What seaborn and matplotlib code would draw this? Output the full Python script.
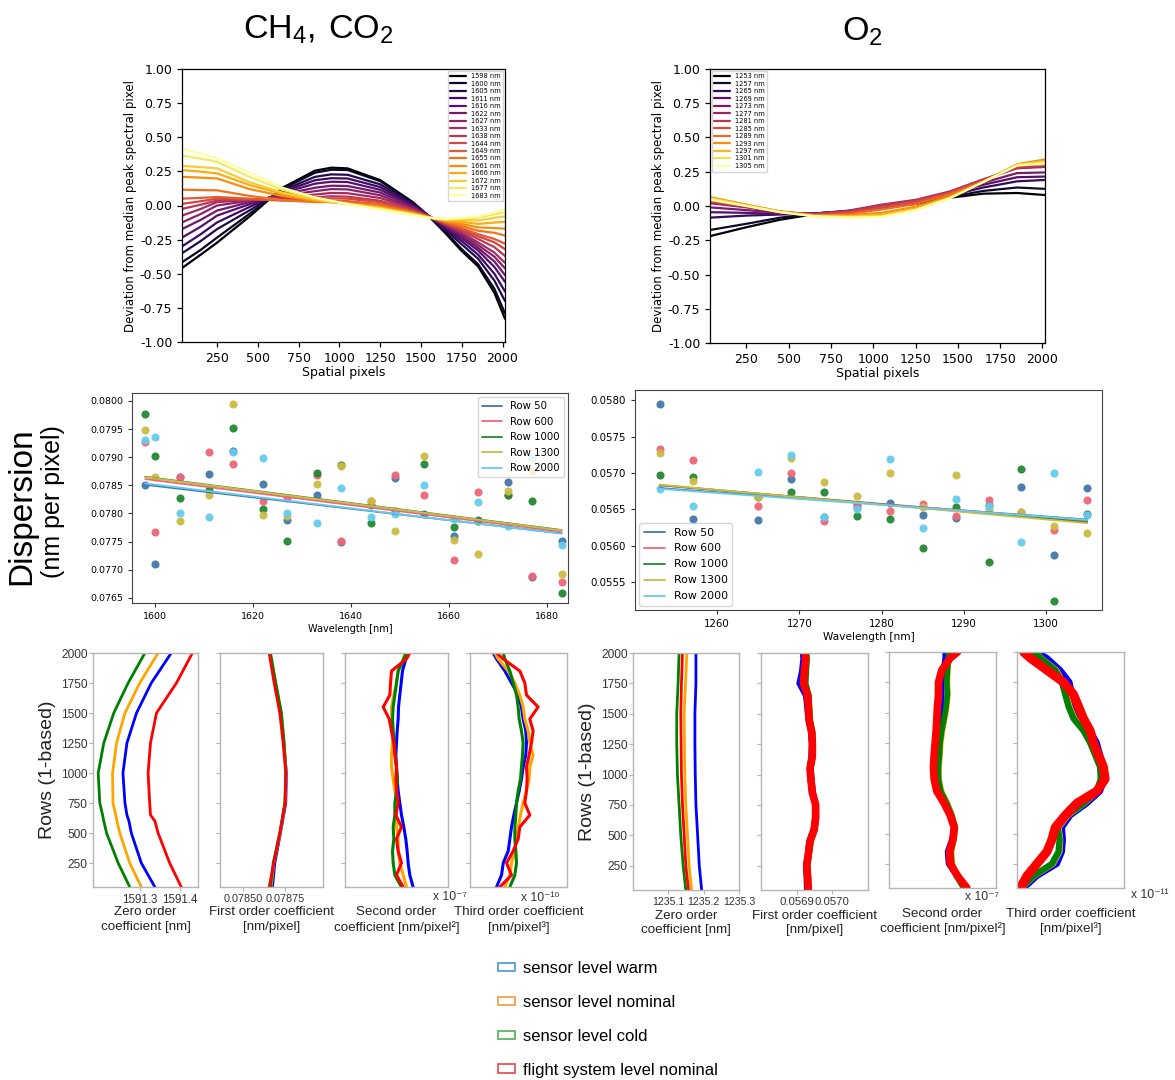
import numpy as np
import pandas as pd
import matplotlib
matplotlib.use("Agg")
import matplotlib.pyplot as plt
from matplotlib.patches import Patch
from matplotlib import font_manager
import seaborn as sns

# ---------------------------------------------------------------- data
# Top row: deviation from median peak spectral pixel, sampled along the slit
ch4_px = [35, 150, 250, 450, 650, 850, 950, 1050, 1250, 1450, 1550, 1650, 1750, 1850, 1950, 2015]
ch4_wl = [1598, 1600, 1605, 1611, 1616, 1622, 1627, 1633, 1638, 1644, 1649,
          1655, 1661, 1666, 1672, 1677, 1683]
# one list per spatial sample (ch4_px), entries follow ch4_wl
ch4_dev_by_px = [
    [-0.458, -0.416, -0.35, -0.30, -0.235, -0.173, -0.124, -0.074, -0.025, 0.012, 0.05, 0.116, 0.21, 0.26, 0.29, 0.366, 0.415],
    [-0.36, -0.325, -0.26, -0.21, -0.155, -0.105, -0.062, -0.025, 0.006, 0.031, 0.056, 0.113, 0.204, 0.248, 0.281, 0.343, 0.381],
    [-0.272, -0.235, -0.173, -0.124, -0.074, -0.037, 0.0, 0.025, 0.037, 0.05, 0.062, 0.111, 0.198, 0.235, 0.272, 0.32, 0.347],
    [-0.08, -0.06, -0.035, -0.01, 0.01, 0.025, 0.035, 0.04, 0.045, 0.045, 0.05, 0.07, 0.12, 0.15, 0.17, 0.21, 0.24],
    [0.129, 0.12, 0.11, 0.10, 0.09, 0.08, 0.07, 0.06, 0.05, 0.04, 0.035, 0.04, 0.07, 0.085, 0.095, 0.115, 0.13],
    [0.255, 0.24, 0.21, 0.185, 0.16, 0.13, 0.105, 0.08, 0.06, 0.045, 0.03, 0.025, 0.035, 0.04, 0.045, 0.055, 0.06],
    [0.277, 0.262, 0.228, 0.20, 0.174, 0.145, 0.12, 0.092, 0.068, 0.052, 0.034, 0.025, 0.025, 0.025, 0.028, 0.032, 0.035],
    [0.272, 0.26, 0.225, 0.198, 0.172, 0.143, 0.118, 0.09, 0.065, 0.05, 0.032, 0.022, 0.015, 0.012, 0.012, 0.012, 0.01],
    [0.186, 0.178, 0.155, 0.135, 0.115, 0.095, 0.075, 0.055, 0.035, 0.025, 0.01, 0.0, -0.01, -0.015, -0.02, -0.025, -0.03],
    [0.025, 0.02, 0.015, 0.005, 0.0, -0.01, -0.02, -0.025, -0.035, -0.04, -0.045, -0.05, -0.055, -0.06, -0.062, -0.066, -0.07],
    [-0.08, -0.08, -0.08, -0.08, -0.078, -0.078, -0.08, -0.08, -0.082, -0.085, -0.085, -0.085, -0.087, -0.088, -0.088, -0.09, -0.09],
    [-0.203, -0.195, -0.18, -0.17, -0.16, -0.15, -0.145, -0.14, -0.135, -0.13, -0.125, -0.12, -0.115, -0.11, -0.105, -0.10, -0.10],
    [-0.334, -0.32, -0.285, -0.26, -0.24, -0.225, -0.21, -0.20, -0.185, -0.175, -0.165, -0.15, -0.135, -0.12, -0.105, -0.095, -0.09],
    [-0.446, -0.43, -0.39, -0.36, -0.33, -0.31, -0.29, -0.27, -0.245, -0.225, -0.21, -0.185, -0.16, -0.135, -0.11, -0.09, -0.08],
    [-0.64, -0.61, -0.55, -0.50, -0.45, -0.41, -0.375, -0.345, -0.305, -0.27, -0.245, -0.20, -0.165, -0.125, -0.09, -0.065, -0.05],
    [-0.83, -0.79, -0.70, -0.63, -0.56, -0.51, -0.46, -0.42, -0.37, -0.32, -0.28, -0.22, -0.17, -0.12, -0.08, -0.05, -0.03],
]

o2_px = [35, 250, 450, 650, 850, 1050, 1250, 1450, 1650, 1850, 2015]
o2_wl = [1253, 1257, 1265, 1269, 1273, 1277, 1281, 1285, 1289, 1293, 1297, 1301, 1305]
# one list per wavelength, entries follow o2_px
o2_dev_by_wl = [
    [-0.22, -0.155, -0.10, -0.06, -0.045, -0.01, 0.015, 0.06, 0.09, 0.095, 0.08],
    [-0.175, -0.13, -0.085, -0.055, -0.035, -0.005, 0.02, 0.065, 0.11, 0.135, 0.125],
    [-0.085, -0.07, -0.062, -0.055, -0.04, -0.005, 0.025, 0.075, 0.135, 0.18, 0.19],
    [-0.045, -0.05, -0.058, -0.055, -0.04, -0.002, 0.03, 0.085, 0.155, 0.21, 0.215],
    [-0.01, -0.03, -0.05, -0.055, -0.038, 0.005, 0.038, 0.095, 0.17, 0.24, 0.245],
    [0.02, -0.01, -0.045, -0.058, -0.035, 0.01, 0.045, 0.105, 0.195, 0.275, 0.285],
    [0.03, -0.005, -0.045, -0.06, -0.04, 0.005, 0.04, 0.10, 0.19, 0.28, 0.29],
    [0.04, 0.0, -0.04, -0.065, -0.05, -0.01, 0.03, 0.095, 0.185, 0.29, 0.31],
    [0.055, 0.005, -0.04, -0.068, -0.06, -0.025, 0.015, 0.085, 0.18, 0.30, 0.33],
    [0.065, 0.01, -0.04, -0.07, -0.068, -0.05, -0.005, 0.07, 0.175, 0.305, 0.34],
    [0.06, 0.005, -0.042, -0.072, -0.075, -0.065, -0.02, 0.06, 0.175, 0.30, 0.33],
    [0.055, 0.002, -0.045, -0.074, -0.08, -0.075, -0.028, 0.055, 0.175, 0.30, 0.32],
    [0.045, 0.0, -0.045, -0.075, -0.085, -0.08, -0.03, 0.055, 0.175, 0.295, 0.31],
]

# Middle row: dispersion per wavelength for selected detector rows
row_ids = [50, 600, 1000, 1300, 2000]
row_colors = ["#4477AA", "#EE6677", "#228833", "#CCBB44", "#66CCEE"]

ch4_disp_row50 = [0.078498, 0.077109, 0.078652, 0.078705, 0.079113, 0.078528, 0.077889, 0.078333, 0.077493, 0.078144, 0.078628, 0.077990, 0.077594, 0.077889, 0.078552, 0.076867, 0.077505]
ch4_disp_row600 = [0.079267, 0.077665, 0.078640, 0.079095, 0.078877, 0.078215, 0.078274, 0.078687, 0.077517, 0.078215, 0.078676, 0.078321, 0.077180, 0.078380, 0.078321, 0.076884, 0.076778]
ch4_disp_row1000 = [0.079764, 0.079024, 0.078274, 0.078416, 0.079515, 0.078084, 0.077505, 0.078717, 0.078853, 0.077836, 0.078037, 0.078883, 0.077753, 0.077872, 0.078321, 0.078215, 0.076589]
ch4_disp_row1300 = [0.079486, 0.078640, 0.077872, 0.078321, 0.079941, 0.077978, 0.077948, 0.078516, 0.078847, 0.078220, 0.077694, 0.079024, 0.077535, 0.077286, 0.078404, 0.078758, 0.076932]
ch4_disp_row2000 = [0.079308, 0.079356, 0.078008, 0.077931, 0.079084, 0.078989, 0.078002, 0.077824, 0.078445, 0.077943, 0.077990, 0.078498, 0.077901, 0.078203, 0.077771, 0.078983, 0.077434]
# linear trend per row: value at the first and at the last wavelength
ch4_fit_first = [0.078510, 0.078611, 0.078652, 0.078646, 0.078534]
ch4_fit_last = [0.077647, 0.077677, 0.077706, 0.077700, 0.077641]

o2_disp_row50 = [0.057954, 0.056372, 0.056349, 0.056922, 0.056395, 0.056555, 0.056587, 0.056427, 0.056385, 0.056555, 0.056812, 0.055876, 0.056798]
o2_disp_row600 = [0.057335, 0.057174, 0.056541, 0.056995, 0.056335, 0.056532, 0.056473, 0.056578, 0.056404, 0.056624, 0.056463, 0.056225, 0.056624]
o2_disp_row1000 = [0.056968, 0.056945, 0.056670, 0.056739, 0.056739, 0.056417, 0.056372, 0.055973, 0.056532, 0.055775, 0.057050, 0.055248, 0.056440]
o2_disp_row1300 = [0.057271, 0.056890, 0.056670, 0.057211, 0.056876, 0.056684, 0.057005, 0.056532, 0.056977, 0.056509, 0.056463, 0.056271, 0.056174]
o2_disp_row2000 = [0.056784, 0.056546, 0.057014, 0.057248, 0.056395, 0.056500, 0.057188, 0.056243, 0.056642, 0.056546, 0.056050, 0.056995, 0.056427]
o2_fit_first = [0.056794, 0.056830, 0.056835, 0.056840, 0.056784]
o2_fit_last = [0.056362, 0.056344, 0.056326, 0.056312, 0.056358]

# Bottom row: polynomial coefficients of the spectral calibration versus row
case_labels = ["sensor level warm", "sensor level nominal", "sensor level cold",
               "flight system level nominal"]
case_line_colors = ["#0000ff", "#ffa500", "#008000", "#ff0000"]
case_patch_colors = ["#5b9bd5", "#f4a04c", "#5cb85c", "#e8555a"]

rows_zero_ch4 = [50, 250, 500, 600, 650, 750, 1000, 1250, 1500, 1750, 2000]
ch4_c0_warm = [1591.338, 1591.304, 1591.279, 1591.273, 1591.268, 1591.263, 1591.258, 1591.268, 1591.292, 1591.329, 1591.379]
ch4_c0_nominal = [1591.304, 1591.275, 1591.250, 1591.243, 1591.240, 1591.233, 1591.232, 1591.242, 1591.263, 1591.300, 1591.346]
ch4_c0_cold = [1591.275, 1591.246, 1591.217, 1591.210, 1591.207, 1591.200, 1591.196, 1591.210, 1591.235, 1591.271, 1591.313]
ch4_c0_flight = [1591.404, 1591.375, 1591.346, 1591.338, 1591.327, 1591.325, 1591.321, 1591.327, 1591.342, 1591.392, 1591.432]

rows_coarse = [50, 250, 500, 750, 1000, 1250, 1500, 1750, 2000]
ch4_c1_warm = [0.078676, 0.078690, 0.078724, 0.078756, 0.078760, 0.078744, 0.078724, 0.078690, 0.078660]
ch4_c1_nominal = [0.078668, 0.078684, 0.078722, 0.078752, 0.078758, 0.078746, 0.078728, 0.078694, 0.078662]
ch4_c1_cold = [0.078664, 0.078680, 0.078720, 0.078750, 0.078756, 0.078746, 0.078730, 0.078696, 0.078664]
ch4_c1_flight = [0.078656, 0.078684, 0.078720, 0.078752, 0.078756, 0.078740, 0.078720, 0.078686, 0.078656]

rows_fine = [50, 150, 250, 350, 450, 550, 650, 750, 850, 950, 1050, 1150, 1250,
             1350, 1450, 1550, 1650, 1750, 1850, 1950, 2000]
# second order, units of 1e-7 nm/pixel^2
ch4_c2_warm = [0.50, 0.40, 0.35, 0.32, 0.28, 0.22, 0.15, 0.10, 0.05, 0.02, 0.00, -0.02, 0.00, 0.02, 0.05, 0.06, 0.10, 0.14, 0.18, 0.28, 0.35]
ch4_c2_nominal = [0.30, 0.20, 0.10, 0.05, 0.05, 0.00, 0.00, 0.00, -0.05, -0.10, -0.15, -0.15, -0.12, -0.12, -0.14, -0.15, -0.08, 0.00, 0.05, 0.20, 0.25]
ch4_c2_cold = [0.15, -0.05, -0.10, -0.12, -0.08, -0.10, -0.05, -0.05, 0.00, 0.03, 0.00, -0.04, -0.07, -0.10, -0.12, -0.10, -0.05, 0.00, 0.05, 0.22, 0.30]
ch4_c2_flight = [0.20, 0.00, 0.15, 0.05, 0.00, 0.15, -0.02, 0.05, 0.00, -0.02, 0.00, -0.05, -0.08, -0.15, -0.22, -0.40, -0.20, -0.18, -0.15, 0.30, 0.40]
# third order, units of 1e-10 nm/pixel^3
ch4_c3_warm = [-0.60, -0.45, -0.40, -0.25, -0.20, -0.15, -0.08, 0.00, 0.08, 0.15, 0.20, 0.28, 0.30, 0.28, 0.20, 0.15, 0.05, -0.15, -0.35, -0.60, -0.70]
ch4_c3_nominal = [-0.35, -0.20, -0.15, -0.05, 0.00, 0.05, 0.12, 0.20, 0.30, 0.38, 0.40, 0.50, 0.40, 0.35, 0.25, 0.20, 0.10, -0.05, -0.25, -0.55, -0.65]
ch4_c3_cold = [-0.20, -0.05, 0.00, -0.02, -0.05, -0.05, -0.02, 0.00, 0.05, 0.12, 0.15, 0.18, 0.20, 0.15, 0.08, 0.05, 0.00, -0.10, -0.20, -0.35, -0.40]
ch4_c3_flight = [-0.50, -0.15, -0.30, -0.10, 0.05, 0.10, 0.40, 0.25, 0.30, 0.32, 0.30, 0.38, 0.45, 0.50, 0.40, 0.65, 0.30, 0.25, 0.10, -0.40, -0.60]

o2_c0_warm = [1235.1943, 1235.1876, 1235.1829, 1235.1781, 1235.1762, 1235.1752, 1235.1752, 1235.1781, 1235.1781]
o2_c0_nominal = [1235.1657, 1235.1590, 1235.1543, 1235.1495, 1235.1467, 1235.1457, 1235.1448, 1235.1486, 1235.1524]
o2_c0_cold = [1235.1495, 1235.1419, 1235.1352, 1235.1305, 1235.1257, 1235.1238, 1235.1238, 1235.1276, 1235.1305]
o2_c0_flight = [1235.1571, 1235.1495, 1235.1448, 1235.1400, 1235.1371, 1235.1362, 1235.1352, 1235.1371, 1235.1400]

o2_c1_warm = [0.0569286, 0.0569276, 0.0569257, 0.0569314, 0.0569352, 0.0569476, 0.0569524, 0.0569562, 0.0569429, 0.0569390, 0.0569371, 0.0569410, 0.0569429, 0.0569400, 0.0569333, 0.0569295, 0.0569257, 0.0569067, 0.0569143, 0.0569181, 0.0569171]
o2_c1_nominal = [0.0569343, 0.0569324, 0.0569305, 0.0569352, 0.0569400, 0.0569514, 0.0569552, 0.0569543, 0.0569467, 0.0569429, 0.0569400, 0.0569457, 0.0569467, 0.0569448, 0.0569381, 0.0569362, 0.0569343, 0.0569248, 0.0569267, 0.0569286, 0.0569276]
o2_c1_cold = [0.0569352, 0.0569333, 0.0569314, 0.0569362, 0.0569410, 0.0569524, 0.0569562, 0.0569552, 0.0569476, 0.0569438, 0.0569410, 0.0569467, 0.0569476, 0.0569457, 0.0569390, 0.0569371, 0.0569352, 0.0569257, 0.0569276, 0.0569295, 0.0569286]
o2_c1_flight = [0.0569333, 0.0569314, 0.0569286, 0.0569333, 0.0569381, 0.0569505, 0.0569543, 0.0569543, 0.0569448, 0.0569410, 0.0569381, 0.0569448, 0.0569448, 0.0569429, 0.0569352, 0.0569333, 0.0569314, 0.0569190, 0.0569219, 0.0569257, 0.0569238]
# second order, units of 1e-7 nm/pixel^2
o2_c2_warm = [0.65, 0.40, 0.15, 0.12, 0.25, 0.32, 0.22, 0.10, -0.10, -0.20, -0.22, -0.18, -0.15, -0.10, -0.05, -0.05, -0.05, -0.05, 0.00, 0.05, 0.05]
o2_c2_nominal = [0.62, 0.40, 0.27, 0.24, 0.32, 0.36, 0.26, 0.12, -0.06, -0.13, -0.13, -0.10, -0.08, -0.03, 0.04, 0.10, 0.13, 0.12, 0.13, 0.16, 0.17]
o2_c2_cold = [0.60, 0.38, 0.25, 0.22, 0.30, 0.35, 0.25, 0.10, -0.08, -0.15, -0.15, -0.12, -0.10, -0.05, 0.02, 0.08, 0.12, 0.10, 0.12, 0.15, 0.15]
o2_c2_flight = [0.70, 0.42, 0.20, 0.18, 0.28, 0.32, 0.20, 0.02, -0.20, -0.28, -0.30, -0.28, -0.25, -0.22, -0.20, -0.18, -0.15, -0.15, -0.05, 0.20, 0.42]
# third order, units of 1e-11 nm/pixel^3
o2_c3_warm = [-1.40, -1.00, -0.40, -0.25, -0.22, -0.25, 0.00, 0.50, 0.90, 1.02, 1.00, 0.90, 0.80, 0.60, 0.30, 0.15, 0.05, -0.02, -0.30, -0.70, -1.00]
o2_c3_nominal = [-1.48, -1.08, -0.52, -0.32, -0.30, -0.35, -0.07, 0.42, 0.82, 0.95, 0.92, 0.78, 0.63, 0.43, 0.13, -0.02, -0.12, -0.22, -0.42, -0.88, -1.08]
o2_c3_cold = [-1.50, -1.10, -0.55, -0.35, -0.32, -0.38, -0.10, 0.40, 0.80, 0.92, 0.90, 0.75, 0.60, 0.40, 0.10, -0.05, -0.15, -0.25, -0.45, -0.90, -1.10]
o2_c3_flight = [-1.50, -1.30, -1.00, -0.70, -0.55, -0.45, -0.15, 0.20, 0.80, 1.05, 1.00, 0.85, 0.70, 0.60, 0.40, 0.25, 0.10, -0.20, -0.70, -1.20, -1.40]

# ---------------------------------------------------------------- style
sns.set_style("ticks")
plt.rcParams["font.family"] = ["DejaVu Sans"]
for key in ["text.color", "axes.labelcolor", "xtick.color", "ytick.color"]:
    plt.rcParams[key] = "black"
installed = {f.name for f in font_manager.fontManager.ttflist}
title_font = "Liberation Sans Narrow" if "Liberation Sans Narrow" in installed else "Liberation Sans"
plt.rcParams["mathtext.fontset"] = "custom"
plt.rcParams["mathtext.rm"] = title_font
ARIAL = ["Liberation Sans", "DejaVu Sans"]

W, H = 1175, 1080
fig = plt.figure(figsize=(W / 100, H / 100), dpi=100)


def box(l, t, r, b):
    return [l / W, 1 - b / H, (r - l) / W, (b - t) / H]


# ---------------------------------------------------------------- titles
title_size = 28 if title_font.endswith("Narrow") else 24.5
fig.text(318 / W, 1 - 30 / H, r"$\mathrm{CH_4,\,CO_2}$", ha="center", va="center",
         fontsize=title_size)
fig.text(862 / W, 1 - 32 / H, r"$\mathrm{O_2}$", ha="center", va="center",
         fontsize=title_size)


# ---------------------------------------------------------------- top row
def deviation_panel(rect, px, wls, curves, legend_loc):
    ax = fig.add_axes(rect)
    cmap = plt.get_cmap("inferno")
    shades = cmap(np.linspace(0, 1, len(wls)))
    for wl, vals, c in zip(wls, curves, shades):
        df = pd.DataFrame({"px": px, "dev": vals})
        sns.lineplot(data=df, x="px", y="dev", color=c, lw=1.6, ax=ax, label=f"{wl} nm")
    ax.set_xlim(35, 2015)
    ax.set_ylim(-1.0, 1.0)
    ax.set_xticks(range(250, 2001, 250))
    ax.set_yticks(np.arange(-1.0, 1.01, 0.25))
    ax.yaxis.set_major_formatter(matplotlib.ticker.FormatStrFormatter("%.2f"))
    ax.tick_params(labelsize=9, length=3.5, width=0.9, color="black")
    for s in ax.spines.values():
        s.set_color("black")
        s.set_linewidth(0.9)
    ax.set_xlabel("Spatial pixels", fontsize=9, labelpad=1)
    ax.set_ylabel("Deviation from median peak spectral pixel", fontsize=8.5, labelpad=2)
    ax.legend(loc=legend_loc, fontsize=4.8, labelspacing=0.22, handlelength=2.3,
              borderpad=0.4, borderaxespad=0.25, framealpha=0.8, edgecolor="0.8")
    return ax


ch4_curves = np.array(ch4_dev_by_px).T
deviation_panel(box(182, 69, 505, 342), ch4_px, ch4_wl, ch4_curves, "upper right")
deviation_panel(box(710, 69, 1045, 343), o2_px, o2_wl, o2_dev_by_wl, "upper left")


# ---------------------------------------------------------------- middle row
def dispersion_panel(rect, wl, series, fit_first, fit_last, xlim, ylim, xticks, yticks,
                     legend_loc, tfs, xfs, lfs):
    ax = fig.add_axes(rect)
    for vals, c in zip(series, row_colors):
        sns.scatterplot(x=wl, y=vals, color=c, s=34, alpha=0.95, linewidth=0,
                        ax=ax, legend=False)
    for rid, a, b, c in zip(row_ids, fit_first, fit_last, row_colors):
        sns.lineplot(x=[wl[0], wl[-1]], y=[a, b], color=c, lw=1.3, ax=ax,
                     label=f"Row {rid}")
    ax.set_xlim(*xlim)
    ax.set_ylim(*ylim)
    ax.set_xticks(xticks)
    ax.set_yticks(yticks)
    ax.yaxis.set_major_formatter(matplotlib.ticker.FormatStrFormatter("%.4f"))
    ax.tick_params(labelsize=tfs, length=3, width=0.8, color="#333333")
    for s in ax.spines.values():
        s.set_color("#444444")
        s.set_linewidth(0.8)
    ax.set_xlabel("Wavelength [nm]", fontsize=xfs, labelpad=2)
    ax.set_ylabel("")
    ax.legend(loc=legend_loc, fontsize=lfs, framealpha=0.8, edgecolor="0.8",
              handlelength=2.0, borderaxespad=0.4, labelspacing=0.55)
    return ax


dispersion_panel(box(132, 393, 568, 603), ch4_wl,
                 [ch4_disp_row50, ch4_disp_row600, ch4_disp_row1000, ch4_disp_row1300, ch4_disp_row2000],
                 ch4_fit_first, ch4_fit_last,
                 (1595.3, 1684.3), (0.07641, 0.08014), range(1600, 1681, 20),
                 np.arange(0.0765, 0.08001, 0.0005), "upper right", 6.8, 7.0, 7.3)
dispersion_panel(box(635, 390, 1102, 610), o2_wl,
                 [o2_disp_row50, o2_disp_row600, o2_disp_row1000, o2_disp_row1300, o2_disp_row2000],
                 o2_fit_first, o2_fit_last,
                 (1250.0, 1306.8), (0.05512, 0.05814), range(1260, 1301, 10),
                 np.arange(0.0555, 0.05801, 0.0005), "lower left", 7.4, 7.6, 7.8)

fig.text(22 / W, 1 - 506 / H, "Dispersion", rotation=90, ha="center", va="center",
         fontsize=24, family=ARIAL)
fig.text(53 / W, 1 - 502 / H, "(nm per pixel)", rotation=90, ha="center", va="center",
         fontsize=18, family=ARIAL)


# ---------------------------------------------------------------- bottom row
def coef_panel(rect, rows, series, xlim, xticks, xticklabels, xlabel, widths,
               ylabel=False, label_x=-0.34, tick_fs=8.0):
    ax = fig.add_axes(rect)
    for vals, c, lw in zip(series, case_line_colors, widths):
        ax.plot(vals, rows, color=c, lw=lw, solid_capstyle="round", solid_joinstyle="round")
    ax.set_xlim(*xlim)
    ax.set_ylim(50, 2000)
    ax.set_yticks(range(250, 2001, 250))
    ax.set_xticks(xticks)
    ax.set_xticklabels(xticklabels)
    for s in ax.spines.values():
        s.set_color("#b4b4b4")
        s.set_linewidth(1.0)
    ax.tick_params(length=3, width=0.8, color="#b4b4b4", labelcolor="#333333", pad=2)
    ax.tick_params(axis="y", pad=1)
    for t in ax.get_yticklabels():
        t.set_family(ARIAL)
        t.set_fontsize(8.6)
    for t in ax.get_xticklabels():
        t.set_family(ARIAL)
        t.set_fontsize(tick_fs)
    if ylabel:
        ax.set_ylabel("Rows (1-based)", fontsize=14, family=ARIAL, color="#222222")
        ax.yaxis.set_label_coords(label_x, 0.5)
    else:
        ax.set_yticklabels([])
    ax.set_xlabel(xlabel, fontsize=9.6, family=ARIAL, color="#222222", linespacing=1.25)
    ax.xaxis.set_label_coords(0.5, -0.083)
    ax.xaxis.label.set_va("top")
    return ax


thin = [2.0, 2.0, 2.0, 2.0]
jag = [2.2, 2.2, 2.2, 2.2]
band = [4.0, 4.0, 4.0, 5.5]
wide_band = [4.5, 4.5, 4.5, 6.5]

coef_panel(box(93, 653, 198, 887), rows_zero_ch4,
           [ch4_c0_warm, ch4_c0_nominal, ch4_c0_cold, ch4_c0_flight],
           (1591.183, 1591.446), [1591.3, 1591.4], ["1591.3", "1591.4"],
           "Zero order\ncoefficient [nm]", thin, ylabel=True, label_x=-0.355, tick_fs=8.4)
coef_panel(box(220, 653, 323, 887), rows_coarse,
           [ch4_c1_warm, ch4_c1_nominal, ch4_c1_cold, ch4_c1_flight],
           (0.07836, 0.07898), [0.0785, 0.07875], ["0.07850", "0.07875"],
           "First order coefficient\n[nm/pixel]", thin, tick_fs=7.8)
coef_panel(box(345, 653, 448, 887), rows_fine,
           [ch4_c2_warm, ch4_c2_nominal, ch4_c2_cold, ch4_c2_flight],
           (-1.55, 1.55), [], [], "Second order\ncoefficient [nm/pixel²]", jag)
coef_panel(box(470, 653, 567, 887), rows_fine,
           [ch4_c3_warm, ch4_c3_nominal, ch4_c3_cold, ch4_c3_flight],
           (-1.40, 1.52), [], [], "Third order coefficient\n[nm/pixel³]", jag)

coef_panel(box(633, 653, 739, 890), rows_coarse,
           [o2_c0_warm, o2_c0_nominal, o2_c0_cold, o2_c0_flight],
           (1235.0, 1235.3), [1235.1, 1235.2, 1235.3], ["1235.1", "1235.2", "1235.3"],
           "Zero order\ncoefficient [nm]", thin, ylabel=True, label_x=-0.345, tick_fs=7.6)
coef_panel(box(761, 653, 868, 890), rows_fine,
           [o2_c1_warm, o2_c1_nominal, o2_c1_cold, o2_c1_flight],
           (0.056797, 0.057105), [0.0569, 0.0570], ["0.0569", "0.0570"],
           "First order coefficient\n[nm/pixel]", band, tick_fs=8.2)
coef_panel(box(889, 652, 996, 888), rows_fine,
           [o2_c2_warm, o2_c2_nominal, o2_c2_cold, o2_c2_flight],
           (-1.63, 1.57), [], [], "Second order\ncoefficient [nm/pixel²]", band)
coef_panel(box(1017, 652, 1124, 888), rows_fine,
           [o2_c3_warm, o2_c3_nominal, o2_c3_cold, o2_c3_flight],
           (-1.60, 1.62), [], [], "Third order coefficient\n[nm/pixel³]", wide_band)

for x, y, s in [(450, 897, "x 10⁻⁷"), (540, 898, "x 10⁻¹⁰"),
                (982, 897, "x 10⁻⁷"), (1150, 895, "x 10⁻¹¹")]:
    fig.text(x / W, 1 - y / H, s, ha="center", va="center", fontsize=8.7,
             family=ARIAL, color="#333333")

handles = [Patch(facecolor="white", edgecolor=c, linewidth=1.3) for c in case_patch_colors]
fig.legend(handles, case_labels, loc="upper left", bbox_to_anchor=(498 / W, 1 - 961 / H),
           frameon=False, prop={"family": ARIAL, "size": 12}, labelspacing=1.13,
           handlelength=1.0, handleheight=0.4, handletextpad=0.5, borderpad=0,
           borderaxespad=0)

fig.savefig("out.png", dpi=100)
